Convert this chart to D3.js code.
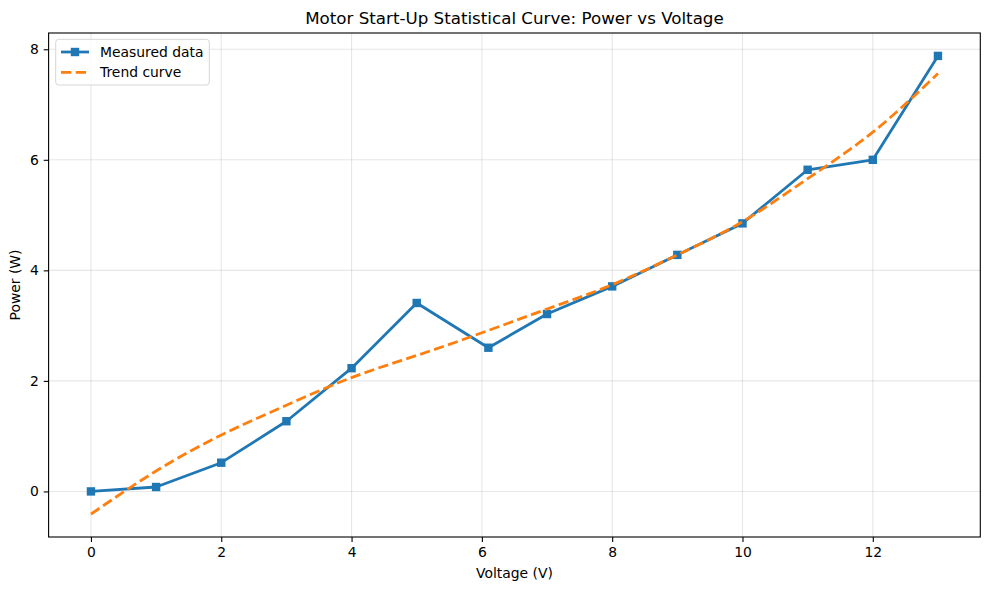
<!DOCTYPE html>
<html>
<head>
<meta charset="utf-8">
<script src="https://cdn.jsdelivr.net/npm/d3@7"></script>
<style>
    body { margin: 0; background: #fff; }
    svg { font-family: "DejaVu Sans", sans-serif; }
    .axis path, .axis line { stroke: #000; stroke-width: 1.1px; }
    .axis text { font-size: 13.9px; fill: #000; }
</style>
</head>
<body>
<svg id="chart"></svg>
<script>
// measured points (voltage / power)
const voltage = [0, 1, 2, 3, 4, 5, 6.1, 7, 8, 9, 10, 11, 12, 13];
const power = [0.0, 0.08, 0.52, 1.27, 2.23, 3.41, 2.60, 3.21, 3.71, 4.28, 4.85, 5.82, 6.00, 7.88];

// trend curve
const trendVoltage = [0, 1, 2, 3, 4, 5, 6, 7, 8, 9, 10, 11, 12, 13];
const trendPower = [-0.41, 0.37, 1.02, 1.56, 2.06, 2.46, 2.87, 3.30, 3.74, 4.28, 4.88, 5.66, 6.50, 7.56];

const xTicks = [0, 2, 4, 6, 8, 10, 12];
const yTicks = [0, 2, 4, 6, 8];

class PowerVoltageChart {

    constructor(config) {
        this.config = config;
        this.init();
    }

    init() {
        let self = this;

        self.svg = d3.select(self.config.parent)
            .attr('width', self.config.width)
            .attr('height', self.config.height);

        self.left = self.config.margin.left;
        self.right = self.config.width - self.config.margin.right;
        self.top = self.config.margin.top;
        self.bottom = self.config.height - self.config.margin.bottom;

        // 5% margins like matplotlib
        let xmin = d3.min(trendVoltage.concat(voltage)), xmax = d3.max(trendVoltage.concat(voltage));
        let ymin = d3.min(trendPower.concat(power)), ymax = d3.max(trendPower.concat(power));
        let xpad = (xmax - xmin) * 0.05, ypad = (ymax - ymin) * 0.05;

        self.xScale = d3.scaleLinear()
            .domain([xmin - xpad, xmax + xpad])
            .range([self.left, self.right]);
        self.yScale = d3.scaleLinear()
            .domain([ymin - ypad, ymax + ypad])
            .range([self.bottom, self.top]);

        self.render();
    }

    render() {
        let self = this;

        // grid
        let grid = self.svg.append('g');
        grid.selectAll('.gx').data(xTicks).enter().append('line')
            .attr('x1', d => self.xScale(d)).attr('x2', d => self.xScale(d))
            .attr('y1', self.top).attr('y2', self.bottom)
            .attr('stroke', '#b0b0b0').attr('stroke-opacity', 0.3).attr('stroke-width', 1.1);
        grid.selectAll('.gy').data(yTicks).enter().append('line')
            .attr('x1', self.left).attr('x2', self.right)
            .attr('y1', d => self.yScale(d)).attr('y2', d => self.yScale(d))
            .attr('stroke', '#b0b0b0').attr('stroke-opacity', 0.3).attr('stroke-width', 1.1);

        // axes
        self.svg.append('g')
            .attr('class', 'axis')
            .attr('transform', `translate(0, ${self.bottom})`)
            .call(d3.axisBottom(self.xScale).tickValues(xTicks).tickSize(4.9).tickPadding(4.9).tickSizeOuter(0))
            .call(g => g.select('.domain').remove());
        self.svg.append('g')
            .attr('class', 'axis')
            .attr('transform', `translate(${self.left}, 0)`)
            .call(d3.axisLeft(self.yScale).tickValues(yTicks).tickSize(4.9).tickPadding(4.9).tickSizeOuter(0))
            .call(g => g.select('.domain').remove());

        self.svg.selectAll('.axis text').attr('font-family', 'DejaVu Sans');

        // measured line
        let pts = voltage.map((v, i) => ({x: v, y: power[i]}));
        let line = d3.line()
            .x(d => self.xScale(d.x))
            .y(d => self.yScale(d.y));

        self.svg.append('path')
            .datum(pts)
            .attr('fill', 'none')
            .attr('stroke', '#1f77b4')
            .attr('stroke-width', 2.78)
            .attr('stroke-linejoin', 'round')
            .attr('d', line);

        self.svg.selectAll('.marker').data(pts).enter().append('rect')
            .attr('x', d => self.xScale(d.x) - 4.2)
            .attr('y', d => self.yScale(d.y) - 4.2)
            .attr('width', 8.4).attr('height', 8.4)
            .attr('fill', '#1f77b4');

        // trend curve
        let trend = trendVoltage.map((v, i) => ({x: v, y: trendPower[i]}));
        self.svg.append('path')
            .datum(trend)
            .attr('fill', 'none')
            .attr('stroke', '#ff7f0e')
            .attr('stroke-width', 2.78)
            .attr('stroke-dasharray', '10.3,4.4')
            .attr('d', line.curve(d3.curveNatural));

        // frame
        self.svg.append('rect')
            .attr('x', self.left).attr('y', self.top)
            .attr('width', self.right - self.left).attr('height', self.bottom - self.top)
            .attr('fill', 'none').attr('stroke', '#000').attr('stroke-width', 1.1);

        // title and labels
        self.svg.append('text')
            .attr('x', (self.left + self.right) / 2).attr('y', 24)
            .attr('text-anchor', 'middle').attr('font-size', '16.7px')
            .text('Motor Start-Up Statistical Curve: Power vs Voltage');
        self.svg.append('text')
            .attr('x', (self.left + self.right) / 2).attr('y', 578)
            .attr('text-anchor', 'middle').attr('font-size', '13.9px')
            .text('Voltage (V)');
        self.svg.append('text')
            .attr('transform', `translate(20, ${(self.top + self.bottom) / 2}) rotate(-90)`)
            .attr('text-anchor', 'middle').attr('font-size', '13.9px')
            .text('Power (W)');

        // legend
        let lg = self.svg.append('g');
        lg.append('rect')
            .attr('x', 55.7).attr('y', 39.3).attr('width', 153.6).attr('height', 45.7)
            .attr('rx', 3).attr('fill', '#fff').attr('fill-opacity', 0.8)
            .attr('stroke', '#d6d6d6').attr('stroke-width', 1);
        lg.append('line')
            .attr('x1', 61).attr('x2', 89).attr('y1', 52).attr('y2', 52)
            .attr('stroke', '#1f77b4').attr('stroke-width', 2.78);
        lg.append('rect')
            .attr('x', 75 - 4.2).attr('y', 52 - 4.2).attr('width', 8.4).attr('height', 8.4)
            .attr('fill', '#1f77b4');
        lg.append('line')
            .attr('x1', 61).attr('x2', 89).attr('y1', 72.3).attr('y2', 72.3)
            .attr('stroke', '#ff7f0e').attr('stroke-width', 2.78)
            .attr('stroke-dasharray', '10.3,4.4');
        lg.append('text').attr('x', 100).attr('y', 57).attr('font-size', '13.9px').text('Measured data');
        lg.append('text').attr('x', 100).attr('y', 77.3).attr('font-size', '13.9px').text('Trend curve');
    }
}

new PowerVoltageChart({
    parent: '#chart',
    width: 989,
    height: 590,
    margin: {top: 33, right: 8.7, bottom: 53, left: 48.6}
});
</script>
</body>
</html>
